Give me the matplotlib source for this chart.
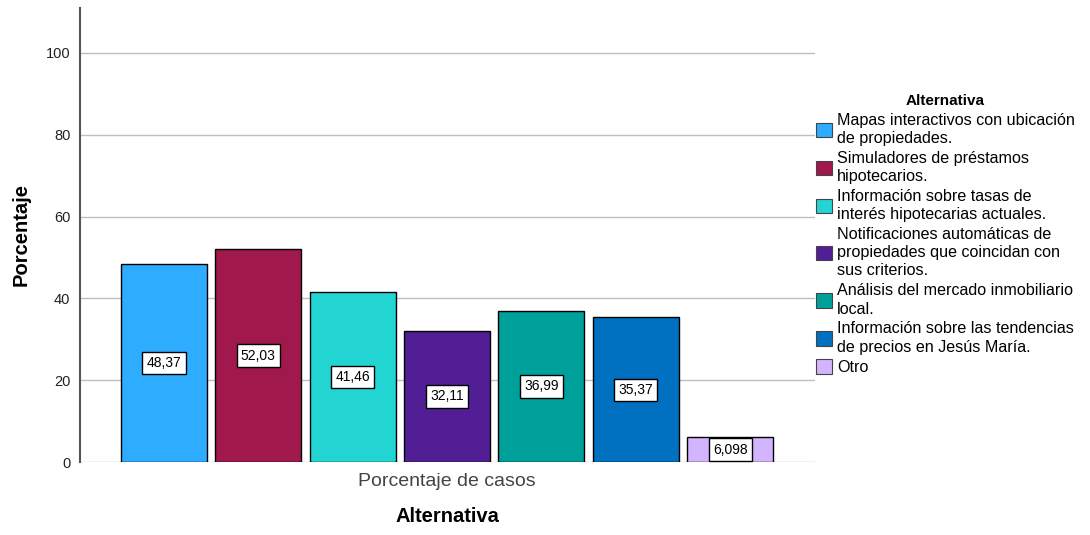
import matplotlib
matplotlib.use("Agg")
import matplotlib.pyplot as plt
from matplotlib.patches import Patch

plt.rcParams['font.family'] = ['Liberation Sans', 'DejaVu Sans']

categories = [
    "Mapas interactivos con ubicación\nde propiedades.",
    "Simuladores de préstamos\nhipotecarios.",
    "Información sobre tasas de\ninterés hipotecarias actuales.",
    "Notificaciones automáticas de\npropiedades que coincidan con\nsus criterios.",
    "Análisis del mercado inmobiliario\nlocal.",
    "Información sobre las tendencias\nde precios en Jesús María.",
    "Otro",
]
values = [48.37, 52.03, 41.46, 32.11, 36.99, 35.37, 6.098]
value_labels = ["48,37", "52,03", "41,46", "32,11", "36,99", "35,37", "6,098"]
colors = ["#2EACFF", "#A0184C", "#22D5D2", "#521E96", "#00A09A", "#0070C0", "#D3B4FF"]
yticks = [0, 20, 40, 60, 80, 100]
xtick_label = "Porcentaje de casos"

fig = plt.figure(figsize=(10.9, 5.35), dpi=100)
ax = fig.add_axes([80/1090, 1-462/535, (815-80)/1090, (462-8)/535])

x = list(range(len(values)))
ax.bar(x, values, width=0.91, color=colors, edgecolor="black", linewidth=1, zorder=3)
for xi, v, lab in zip(x, values, value_labels):
    ax.text(xi, v/2, lab, ha="center", va="center", fontsize=10, zorder=4,
            bbox=dict(boxstyle="square,pad=0.3", facecolor="white", edgecolor="black", linewidth=1))

ax.set_xlim(-0.89, 6.9)
ax.set_ylim(0, 111)
ax.set_yticks(yticks)
ax.set_yticklabels([str(t) for t in yticks], fontsize=10.5, color="#222222")
ax.set_xticks([3.0])
ax.set_xticklabels([xtick_label], fontsize=14, color="#444444")
ax.tick_params(axis="both", length=0, pad=7)
ax.tick_params(axis="x", pad=8)
ax.grid(axis="y", color="#BFBFBF", linewidth=1, zorder=0)
ax.set_axisbelow(True)
for s in ["top", "right", "bottom"]:
    ax.spines[s].set_visible(False)
ax.spines["left"].set_color("#555555")
ax.spines["left"].set_linewidth(1.5)

ax.set_ylabel("Porcentaje", fontsize=14.5, fontweight="bold", labelpad=11)
ax.set_xlabel("Alternativa", fontsize=14.5, fontweight="bold", labelpad=12)

handles = [Patch(facecolor=c, edgecolor="#444444", linewidth=0.8) for c in colors]
leg = fig.legend(handles, categories, loc="upper left", bbox_to_anchor=(816/1090, 1-94/535),
                 frameon=False, title="Alternativa", fontsize=11.6,
                 title_fontproperties={"weight": "bold", "size": 11},
                 handlelength=1.0, handleheight=1.0, handletextpad=0.3,
                 labelspacing=0.29, borderaxespad=0, borderpad=0)
for t in leg.get_texts():
    t.set_linespacing(1.28)

fig.savefig("out.png", dpi=100)
